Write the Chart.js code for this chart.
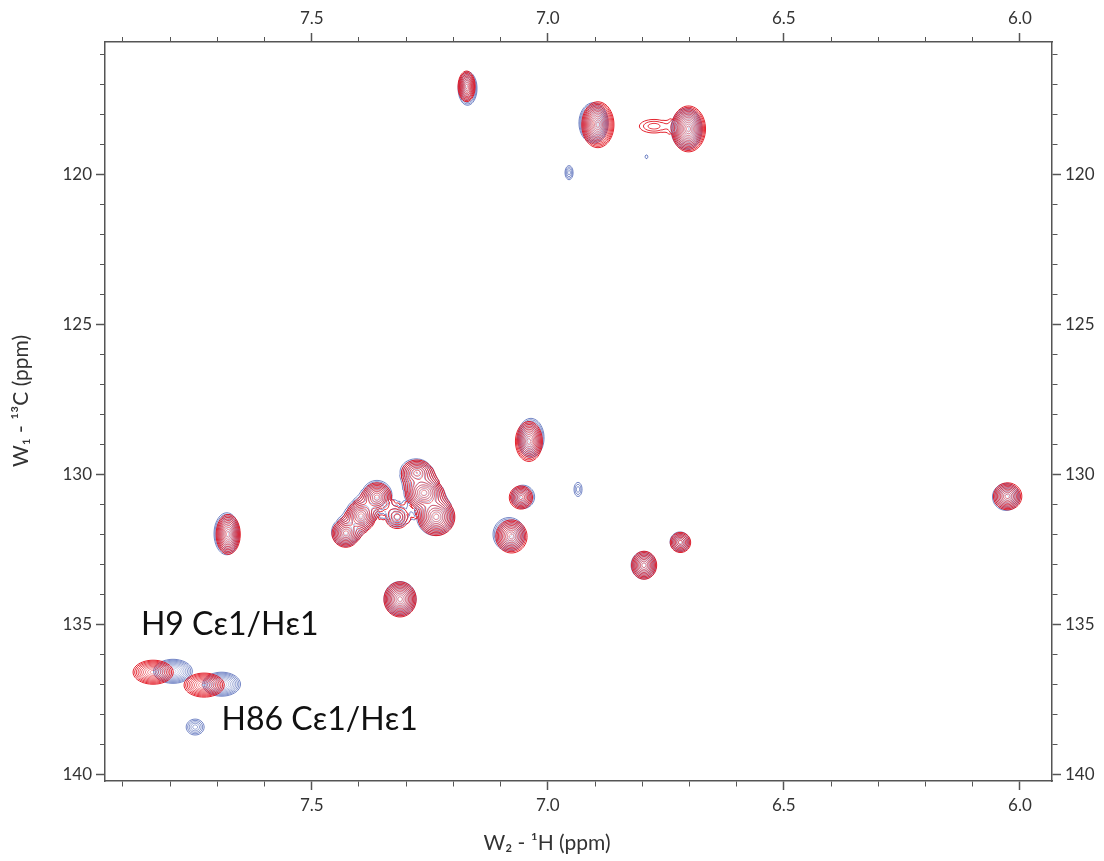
<!DOCTYPE html>
<html>
<head>
<meta charset="utf-8">
<script src="https://cdn.jsdelivr.net/npm/chart.js@4.4.1/dist/chart.umd.min.js"></script>
<style>
  html, body { margin:0; padding:0; background:#fff; }
  #wrap { width:1104px; height:861px; }
</style>
</head>
<body>
<div id="wrap"><canvas id="hsqc" width="1104" height="861"></canvas></div>
<script>
/* ====== 축 범위 / 눈금 ====== */
const H_RANGE = [5.932, 7.938];      // 1H (ppm), reversed
const C_RANGE = [115.57, 140.23];    // 13C (ppm), reversed
const H_MAJOR = 0.5, H_MINOR = 0.1;
const C_MAJOR = 5, C_MINOR = 1;

/* ====== 피크 (blue spectrum) : 1H, 13C, 선폭 1H, 선폭 13C, 등고선 수 ====== */
const blueH      = [7.170, 6.903, 6.706, 6.955, 6.791, 7.036, 7.428, 7.396, 7.362, 7.319, 7.279, 7.264, 7.238, 7.053, 7.082, 7.313, 6.936, 6.797, 6.720, 6.029, 7.680, 7.794, 7.691, 7.747];
const blueC      = [117.12, 118.27, 118.47, 119.93, 119.40, 128.78, 131.92, 131.33, 130.70, 131.40, 129.92, 130.60, 131.40, 130.75, 132.00, 134.15, 130.50, 133.03, 132.25, 130.75, 131.98, 136.57, 137.00, 138.43];
const blueWidthH = [0.040, 0.062, 0.066, 0.017, 0.006, 0.056, 0.060, 0.064, 0.064, 0.048, 0.068, 0.082, 0.080, 0.050, 0.068, 0.068, 0.017, 0.053, 0.042, 0.058, 0.054, 0.082, 0.080, 0.038];
const blueWidthC = [1.12, 1.35, 1.40, 0.47, 0.13, 1.30, 0.96, 1.05, 1.00, 0.72, 0.88, 1.12, 1.28, 0.78, 1.12, 1.15, 0.47, 0.92, 0.66, 0.90, 1.40, 0.80, 0.80, 0.53];
const blueLevels = [10, 13, 13, 4, 1, 11, 9, 9, 9, 5, 8, 10, 10, 8, 10, 11, 3, 9, 7, 9, 11, 10, 10, 5];

/* ====== 피크 (red spectrum) ====== */
const redH      = [7.172, 6.894, 6.702, 6.775, 7.040, 7.428, 7.396, 7.362, 7.319, 7.277, 7.262, 7.236, 7.057, 7.077, 7.313, 6.796, 6.719, 6.026, 7.677, 7.836, 7.728];
const redC      = [117.05, 118.33, 118.47, 118.38, 128.90, 131.97, 131.40, 130.77, 131.43, 129.95, 130.62, 131.42, 130.77, 132.07, 134.17, 133.03, 132.27, 130.73, 132.00, 136.60, 137.03];
const redWidthH = [0.036, 0.068, 0.072, 0.062, 0.057, 0.058, 0.062, 0.062, 0.050, 0.066, 0.080, 0.078, 0.049, 0.066, 0.068, 0.053, 0.043, 0.060, 0.051, 0.085, 0.085];
const redWidthC = [1.02, 1.53, 1.53, 0.45, 1.33, 0.92, 1.03, 0.98, 0.75, 0.86, 1.10, 1.24, 0.77, 1.10, 1.17, 0.93, 0.67, 0.90, 1.33, 0.80, 0.80];
const redLevels = [10, 14, 14, 3, 11, 9, 10, 9, 5, 8, 11, 11, 8, 10, 11, 9, 7, 9, 11, 10, 10];

/* ====== 주석 ====== */
const labelText = ["H9 Cε1/Hε1", "H86 Cε1/Hε1"];
const labelH    = [7.862, 7.691];
const labelC    = [135.37, 138.53];

const LEVEL_RATIO = 1.3;
const SHAPE_POWER = 1.25;

const toPoints = (h, c, wh, wc, n) => h.map((v, i) => ({ x: v, y: c[i], wh: wh[i], wc: wc[i], n: n[i] }));

const isMult = (v, step) => Math.abs(v / step - Math.round(v / step)) < 1e-6;

/* ====== 등고선 (marching squares) ====== */
// 각 셀 케이스별 선분: T=위, R=오른쪽, B=아래, L=왼쪽
const SEGS = {
  1: [['L','B']], 2: [['B','R']], 3: [['L','R']], 4: [['T','R']],
  5: [['T','R'],['L','B']], 6: [['T','B']], 7: [['T','L']], 8: [['T','L']],
  9: [['T','B']], 10: [['T','L'],['B','R']], 11: [['T','R']], 12: [['L','R']],
  13: [['B','R']], 14: [['L','B']]
};

function drawSpectrum(chart, di) {
  const { ctx, chartArea: ca, scales: { x, y } } = chart;
  const ds = chart.data.datasets[di];
  const meta = chart.getDatasetMeta(di);
  const W = Math.ceil(ca.width) + 1, H = Math.ceil(ca.height) + 1;
  const f = new Float32Array(W * H);
  let maxN = 0;

  meta.data.forEach((pt, i) => {
    const d = ds.data[i];
    const rx = Math.max(1.2, Math.abs(x.getPixelForValue(d.x + d.wh / 2) - pt.x));
    const ry = Math.max(1.2, Math.abs(y.getPixelForValue(d.y + d.wc / 2) - pt.y));
    const A = Math.pow(LEVEL_RATIO, d.n);
    const lnA = Math.log(A);
    const cx = pt.x - ca.left, cy = pt.y - ca.top;
    maxN = Math.max(maxN, d.n);
    const gx0 = Math.max(0, Math.floor(cx - 1.6 * rx)), gx1 = Math.min(W - 1, Math.ceil(cx + 1.6 * rx));
    const gy0 = Math.max(0, Math.floor(cy - 1.6 * ry)), gy1 = Math.min(H - 1, Math.ceil(cy + 1.6 * ry));
    for (let gy = gy0; gy <= gy1; gy++) {
      const dy = (gy - cy) / ry;
      for (let gx = gx0; gx <= gx1; gx++) {
        const dx = (gx - cx) / rx;
        const r = Math.sqrt(dx * dx + dy * dy);
        if (r < 1.6) f[gy * W + gx] += A * Math.exp(-lnA * Math.pow(r, SHAPE_POWER));
      }
    }
  });

  ctx.lineWidth = 1;
  for (let j = 0; j < maxN + 4; j++) {
    const L = Math.pow(LEVEL_RATIO, j);
    const alpha = Math.max(ds.alphaInner, ds.alphaOuter - j * ds.alphaStep);
    ctx.strokeStyle = `rgba(${ds.contourRgb},${alpha.toFixed(3)})`;
    ctx.beginPath();
    for (let gy = 0; gy < H - 1; gy++) {
      const row = gy * W;
      for (let gx = 0; gx < W - 1; gx++) {
        const a = f[row + gx], b = f[row + gx + 1], c = f[row + W + gx + 1], e = f[row + W + gx];
        const idx = (a >= L ? 8 : 0) | (b >= L ? 4 : 0) | (c >= L ? 2 : 0) | (e >= L ? 1 : 0);
        if (idx === 0 || idx === 15) continue;
        const px = ca.left + gx, py = ca.top + gy;
        const P = {
          T: [px + (L - a) / (b - a), py],
          R: [px + 1, py + (L - b) / (c - b)],
          B: [px + (L - e) / (c - e), py + 1],
          L: [px, py + (L - a) / (e - a)]
        };
        SEGS[idx].forEach(([s, t]) => {
          ctx.moveTo(P[s][0], P[s][1]);
          ctx.lineTo(P[t][0], P[t][1]);
        });
      }
    }
    ctx.stroke();
  }
}

const contourPlugin = {
  id: 'contours',
  afterDatasetsDraw(chart) {
    const { ctx, chartArea } = chart;
    ctx.save();
    ctx.beginPath();
    ctx.rect(chartArea.left, chartArea.top, chartArea.width, chartArea.height);
    ctx.clip();
    chart.data.datasets.forEach((ds, di) => drawSpectrum(chart, di));
    ctx.restore();
  }
};

/* ====== 라벨 플러그인 ====== */
const labelPlugin = {
  id: 'peakLabels',
  afterDraw(chart) {
    const { ctx, scales: { x, y } } = chart;
    ctx.save();
    ctx.fillStyle = '#111';
    ctx.font = '32px Lato, "Open Sans", sans-serif';
    ctx.textAlign = 'left';
    ctx.textBaseline = 'alphabetic';
    labelText.forEach((t, i) => {
      ctx.fillText(t, x.getPixelForValue(labelH[i]), y.getPixelForValue(labelC[i]));
    });
    ctx.restore();
  }
};

/* ====== 축 ====== */
const AX = '#555';
const tickFont = { family: 'Lato, "Open Sans", sans-serif', size: 17 };
const titleFont = { family: 'Lato, "Open Sans", sans-serif', size: 21 };
const TL = 9;

function hAxis(position, size, showTitle) {
  return {
    type: 'linear', position, reverse: true,
    min: H_RANGE[0], max: H_RANGE[1],
    afterFit: s => { s.height = size; },
    border: { display: true, color: AX, width: 1.5 },
    grid: {
      display: true, drawOnChartArea: false, drawTicks: true,
      tickLength: TL, tickColor: AX,
      tickWidth: c => (c.tick && isMult(c.tick.value, H_MAJOR)) ? 1.5 : 1,
      tickBorderDash: c => (!c.tick || isMult(c.tick.value, H_MAJOR)) ? [] :
        (position === 'top' ? [0, TL - 5, 5, 200] : [5, 200])
    },
    ticks: {
      stepSize: H_MINOR, includeBounds: false, autoSkip: false, maxRotation: 0, minRotation: 0,
      padding: position === 'top' ? 4 : 5,
      color: '#333', font: tickFont,
      callback: v => isMult(v, H_MAJOR) ? v.toFixed(1) : ''
    },
    title: showTitle ? {
      display: true, text: 'W₂ - ¹H (ppm)\u2002\u2002\u2002\u2002\u2002\u2002', color: '#333', font: titleFont,
      padding: { top: 0, bottom: 5 }
    } : { display: false }
  };
}

function cAxis(position, size, showTitle) {
  return {
    type: 'linear', position, reverse: true,
    min: C_RANGE[0], max: C_RANGE[1],
    afterFit: s => { s.width = size; },
    border: { display: true, color: AX, width: 1.5 },
    grid: {
      display: true, drawOnChartArea: false, drawTicks: true,
      tickLength: TL, tickColor: AX,
      tickWidth: c => (c.tick && isMult(c.tick.value, C_MAJOR)) ? 1.5 : 1,
      tickBorderDash: c => (!c.tick || isMult(c.tick.value, C_MAJOR)) ? [] :
        (position === 'left' ? [0, TL - 5, 5, 200] : [5, 200])
    },
    ticks: {
      stepSize: C_MINOR, includeBounds: false, autoSkip: false,
      padding: 4,
      color: '#333', font: tickFont,
      callback: v => isMult(v, C_MAJOR) ? String(Math.round(v)) : ''
    },
    title: showTitle ? {
      display: true, text: '\u2002\u2002W₁ - ¹³C (ppm)', color: '#333', font: titleFont,
      padding: { top: 9, bottom: 0 }
    } : { display: false }
  };
}

new Chart(document.getElementById('hsqc'), {
  type: 'scatter',
  data: {
    datasets: [
      {
        label: 'blue', data: toPoints(blueH, blueC, blueWidthH, blueWidthC, blueLevels),
        pointRadius: 0, pointHoverRadius: 0,
        contourRgb: '72,96,180', alphaOuter: 0.75, alphaInner: 0.25, alphaStep: 0.06
      },
      {
        label: 'red', data: toPoints(redH, redC, redWidthH, redWidthC, redLevels),
        pointRadius: 0, pointHoverRadius: 0,
        contourRgb: '226,24,36', alphaOuter: 0.95, alphaInner: 0.4, alphaStep: 0.06
      }
    ]
  },
  options: {
    responsive: false, animation: false,
    layout: { padding: 0 },
    plugins: { legend: { display: false }, tooltip: { enabled: false } },
    scales: {
      x: hAxis('bottom', 80, true),
      x2: hAxis('top', 42, false),
      y: cAxis('left', 105, true),
      y2: cAxis('right', 52, false)
    }
  },
  plugins: [contourPlugin, labelPlugin]
});
</script>
</body>
</html>
